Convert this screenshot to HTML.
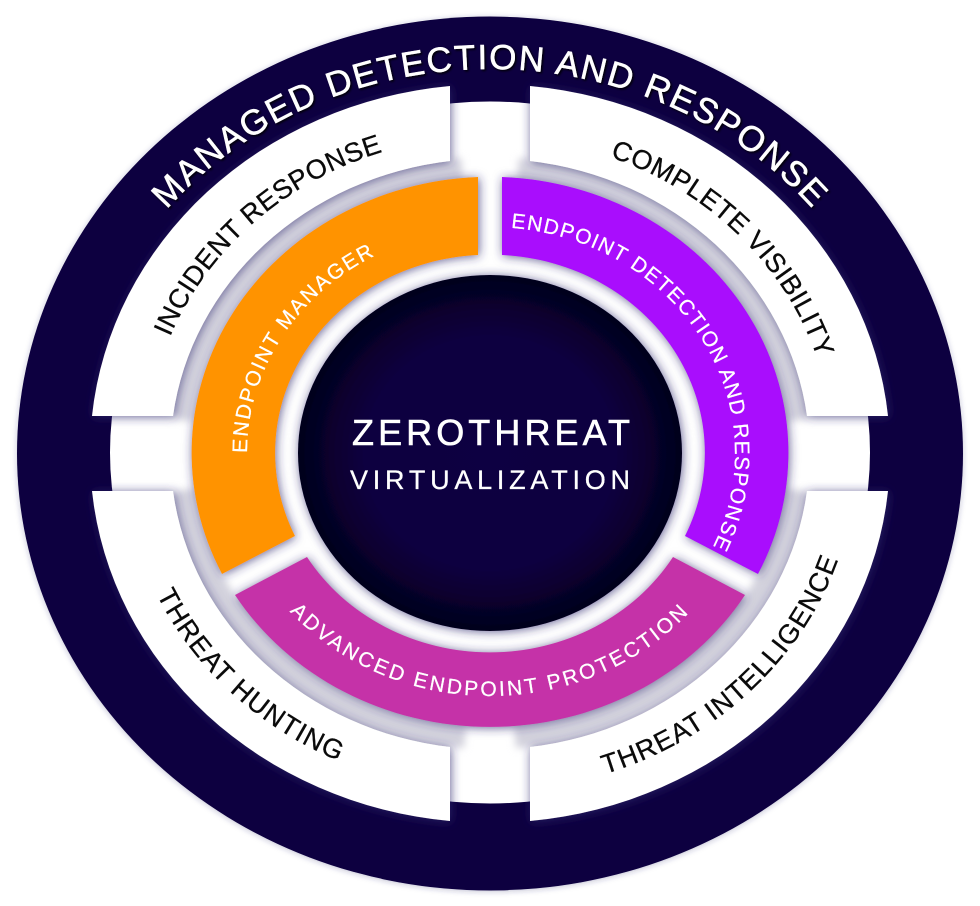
<!DOCTYPE html>
<html><head><meta charset="utf-8">
<style>
html,body{margin:0;padding:0;background:#fff;width:980px;height:906px;overflow:hidden}
svg{display:block}
text{font-family:"Liberation Sans",sans-serif}
</style></head>
<body>
<svg width="980" height="906" viewBox="0 0 980 906" xmlns="http://www.w3.org/2000/svg">
<defs>
<radialGradient id="c" cx="50%" cy="50%" r="50%">
<stop offset="0" stop-color="#0b0042"/><stop offset=".65" stop-color="#0b0040"/><stop offset="1" stop-color="#04001c"/>
</radialGradient>
<filter id="s" filterUnits="userSpaceOnUse" x="0" y="0" width="980" height="906"><feDropShadow dx="1" dy="1" stdDeviation="5" flood-color="#2f2c6e" flood-opacity=".72"/></filter>
<filter id="o" filterUnits="userSpaceOnUse" x="0" y="0" width="980" height="906"><feDropShadow dx="0" dy="1" stdDeviation="3" flood-color="#2f2c6e" flood-opacity=".3"/></filter>
<filter id="b" filterUnits="userSpaceOnUse" x="0" y="0" width="980" height="906"><feGaussianBlur stdDeviation="4"/></filter>
<filter id="t" filterUnits="userSpaceOnUse" x="0" y="0" width="980" height="906"><feDropShadow dx="1.5" dy="1.5" stdDeviation="1" flood-color="#000" flood-opacity=".9"/></filter>
<path id="p0" d="M72,453 A418 384 0 0 1 908,453"/>
<path id="p1" d="M170,337 A344 317 0 0 1 490,136"/>
<path id="p2" d="M610,157 A343 316 0 0 1 833,453"/>
<path id="p3" d="M154.5,590 A367 338 0 0 0 490,791"/>
<path id="p4" d="M605,774 A367 338 0 0 0 857,453"/>
<path id="p5" d="M247,453 A243 224 0 0 1 490,229"/>
<path id="p6" d="M490,227 A245 226 0 0 1 490,679"/>
<path id="p7" d="M226,453 A264 243 0 0 0 754,453"/>
</defs>

<ellipse cx="490" cy="453.5" rx="473" ry="437" fill="#0c023f" filter="url(#o)"/>
<ellipse cx="490" cy="452.5" rx="380" ry="351" fill="#fff"/>

<g fill="none" stroke="#d3d2dd" stroke-width="22" filter="url(#b)">
<path d="M462,169 A309 285 0 0 0 181.5,420"/>
<path d="M518,169 A309 285 0 0 1 798.5,420"/>
<path d="M183,490 A309 285 0 0 0 465,737"/>
<path d="M797,490 A309 285 0 0 1 515,737"/>
</g>

<g fill="#fff" filter="url(#s)">
<path d="M450,86 A400 368 0 0 0 92,416 L173,416 A319 295 0 0 1 450,161 Z"/>
<path d="M530,86 A400 368 0 0 1 888,416 L807,416 A319 295 0 0 0 530,161 Z"/>
<path d="M92,491 A400 368 0 0 0 450,821 L450,747 A319 295 0 0 1 173,491 Z"/>
<path d="M888,491 A400 368 0 0 1 530,821 L530,747 A319 295 0 0 0 807,491 Z"/>
</g>

<g filter="url(#s)">
<path fill="#ff9305" d="M478,177 A299 276 0 0 0 222,574 L295,536 A214 198 0 0 1 478,255 Z"/>
<path fill="#a907fd" d="M502,177 A299 276 0 0 1 758,574 L685,536 A214 198 0 0 0 502,255 Z"/>
<path fill="#c532a8" d="M235,595 A299 276 0 0 0 745,595 L673,557 A214 198 0 0 1 307,557 Z"/>
</g>

<ellipse cx="490" cy="453" rx="192" ry="178" fill="url(#c)" filter="url(#s)"/>

<text fill="#fff" stroke="#fff" stroke-width=".5" font-size="35" letter-spacing="1.7" text-anchor="middle" filter="url(#t)"><textPath href="#p0" startOffset="50%">MANAGED DETECTION AND RESPONSE</textPath></text>
<g fill="#0a0a0a" stroke="#0a0a0a" stroke-width=".3" font-size="27">
<text letter-spacing=".4"><textPath href="#p1">INCIDENT RESPONSE</textPath></text>
<text letter-spacing=".5"><textPath href="#p2">COMPLETE VISIBILITY</textPath></text>
<text letter-spacing="1.2"><textPath href="#p3" startOffset="5">THREAT HUNTING</textPath></text>
<text letter-spacing="1.1"><textPath href="#p4">THREAT INTELLIGENCE</textPath></text>
</g>
<g fill="#fff" stroke="#fff" stroke-width=".25" font-size="21">
<text letter-spacing="1.8"><textPath href="#p5">ENDPOINT MANAGER</textPath></text>
<text letter-spacing="1.3"><textPath href="#p6" startOffset="21">ENDPOINT DETECTION AND RESPONSE</textPath></text>
<text letter-spacing="2.65" text-anchor="middle"><textPath href="#p7" startOffset="50%">ADVANCED ENDPOINT PROTECTION</textPath></text>
</g>
<text fill="#fff" stroke="#fff" stroke-width=".6" font-size="36" x="352" y="445" textLength="278" lengthAdjust="spacing">ZEROTHREAT</text>
<text fill="#fff" stroke="#fff" stroke-width=".3" font-size="27" x="350" y="489" textLength="280" lengthAdjust="spacing">VIRTUALIZATION</text>
</svg>
</body></html>
